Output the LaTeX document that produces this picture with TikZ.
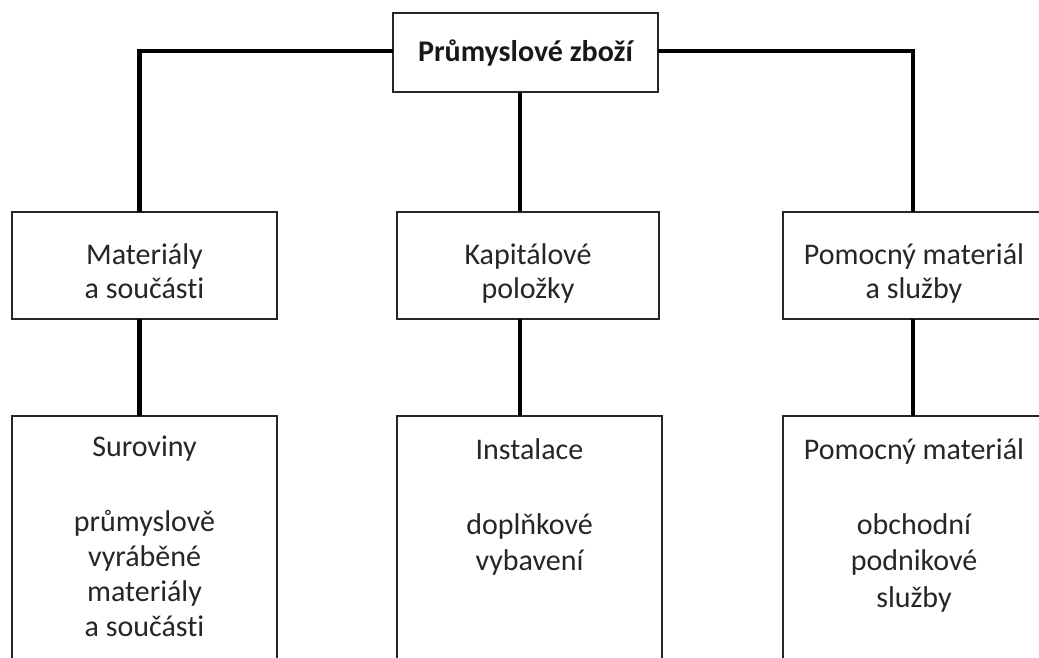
\documentclass[tikz,border=0pt]{standalone}
\usepackage{fontspec}
\setmainfont{Carlito}[Ligatures=NoCommon]
\begin{document}
\begin{tikzpicture}[x=1pt,y=-1pt,
  box/.style={draw=black!85, line width=1.5pt, inner sep=0pt, outer sep=0pt},
  conn/.style={line width=4.5pt, black},
  lbl/.style={align=center, inner sep=0pt, anchor=north, text=black!85},
  midtxt/.style={lbl, font=\fontsize{30}{34}\selectfont},
  lowa/.style={lbl, font=\fontsize{30}{35}\selectfont},
  lowb/.style={lbl, font=\fontsize{30}{36.5}\selectfont}]
\clip (0,0) rectangle (1039,657);
\fill[white] (0,0) rectangle (1039,657);
% boxes
\node[box, minimum width=265, minimum height=79, font=\bfseries\fontsize{30}{36}\selectfont, text=black!90] (top) at (525.5,52.5) {Průmyslové zboží};
\node[box, minimum width=265, minimum height=107] (m1) at (144.5,265.5) {};
\node[box, minimum width=262, minimum height=107] (m2) at (528,265.5) {};
\node[box, minimum width=262, minimum height=107] (m3) at (914,265.5) {};
\node[box, minimum width=265, minimum height=284] (b1) at (144.5,558) {};
\node[box, minimum width=265, minimum height=284] (b2) at (529.5,558) {};
\node[box, minimum width=265, minimum height=284] (b3) at (915.5,558) {};
% connector guides
\coordinate (xl) at (139.5,0);
\coordinate (xc) at (520,0);
\coordinate (xr) at (913,0);
\coordinate (yl) at (0,51);
% connectors
\draw[conn] (top.west |- yl) -| (xl |- m1.north);
\draw[conn] (top.east |- yl) -| (xr |- m3.north);
\draw[conn] (xc |- top.south) -- (xc |- m2.north);
\draw[conn] (xl |- m1.south) -- (xl |- b1.north);
\draw[conn] (xc |- m2.south) -- (xc |- b2.north);
\draw[conn] (xr |- m3.south) -- (xr |- b3.north);
% texts
\node[midtxt] (t1) at (144.5,240.2) {\strut Materiály\\a součásti};
\node[midtxt] (t2) at (528,240.2) {\strut Kapitálové\\položky};
\node[midtxt] (t3) at (914,240.2) {\strut Pomocný materiál\\a služby};
\node[lowa] (u1) at (144.5,431.5) {\strut Suroviny\\[40pt]průmyslově\\vyráběné\\materiály\\a součásti};
\node[lowb] (u2) at (529.5,433.4) {\strut Instalace\\[38.5pt]doplňkové\\vybavení};
\node[lowb] (u3) at (914,433.4) {\strut Pomocný materiál\\[38.5pt]obchodní\\podnikové\\služby};
\end{tikzpicture}
\end{document}
